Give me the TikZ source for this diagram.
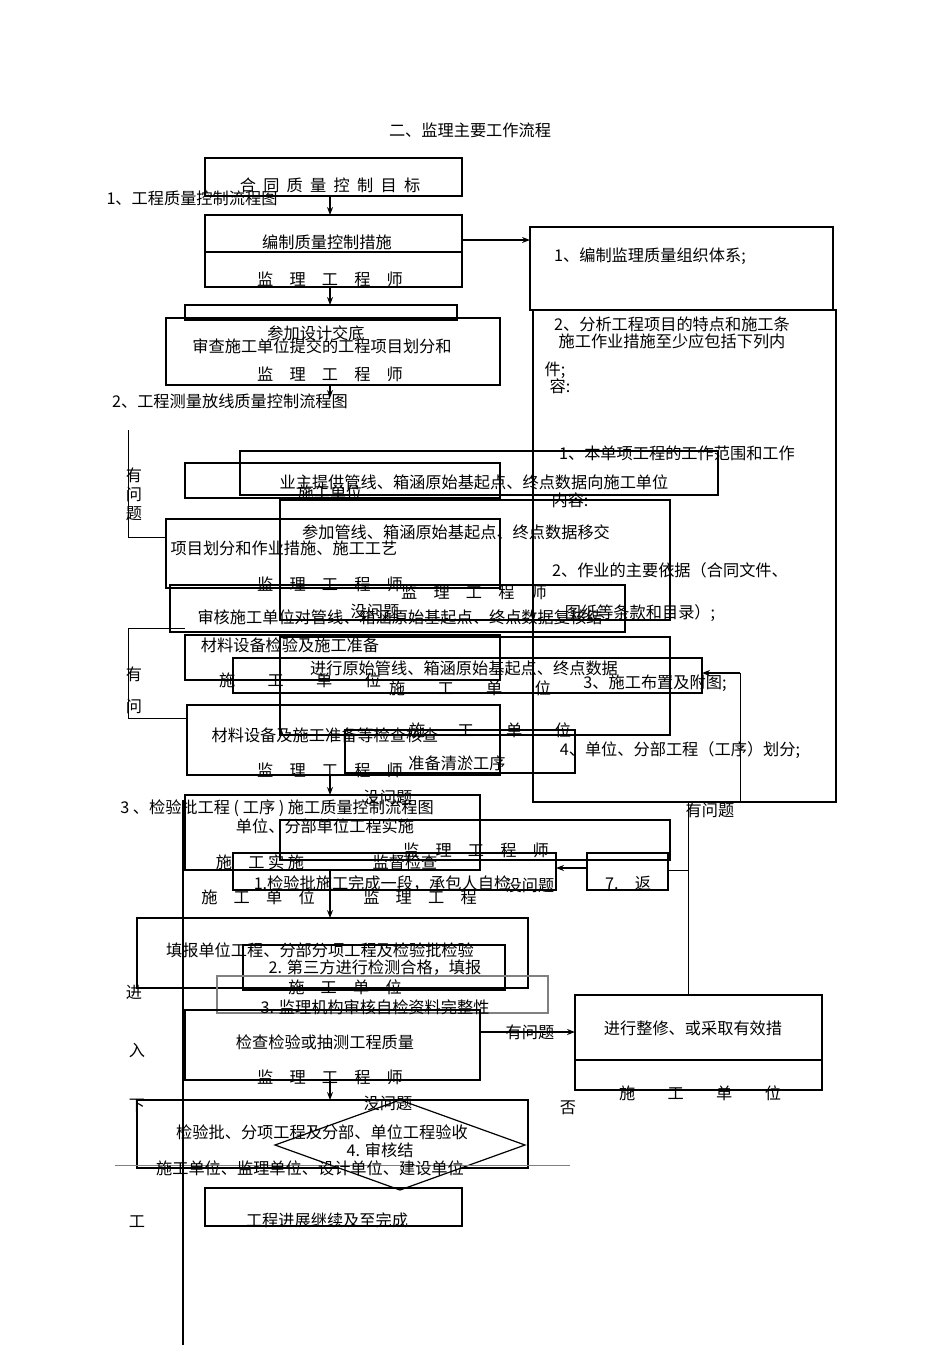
\documentclass[tikz,border=0pt]{standalone}
\usepackage{fontspec}
\setmainfont{Noto Sans CJK SC}
\usetikzlibrary{arrows.meta}
\begin{document}
\begin{tikzpicture}[x=0.5pt,y=-0.5pt,
  bx/.style={draw,line width=1.1pt},
  tx/.style={inner sep=0pt,font=\fontsize{8.1}{8.5}\selectfont},
  ar/.style={-{Stealth[length=4pt]},line width=0.6pt}]
\useasboundingbox (0,0) rectangle (950,1345);
% boxes
\draw[bx] (205,158) rectangle (462,196);
\draw[bx] (205,215) rectangle (462,252); \draw[bx] (205,252) rectangle (462,287);
\draw[bx] (530,227) rectangle (833,310);
\draw[bx] (533,310) rectangle (836,802);
\draw[bx] (185,305) rectangle (457,320);
\draw[bx] (166,318) rectangle (500,385);
\draw[bx] (185,463) rectangle (500,498);
\draw[bx] (240,451) rectangle (718,495);
\draw[bx] (166,519) rectangle (500,588);
\draw[bx] (280,500) rectangle (670,620);
\draw[bx] (170,585) rectangle (625,632);
\draw[bx] (185,635) rectangle (500,680);
\draw[bx] (280,637) rectangle (670,735);
\draw[bx] (233,658) rectangle (702,693);
\draw[bx] (187,705) rectangle (500,775);
\draw[bx] (345,730) rectangle (575,773);
\draw[bx] (185,795) rectangle (480,870);
\draw[bx] (280,820) rectangle (670,860);
\draw[bx] (233,853) rectangle (556,890);
\draw[bx] (587,853) rectangle (668,890);
\draw[bx] (137,918) rectangle (528,988);
\draw[bx] (243,945) rectangle (505,990);
\draw[draw=gray,line width=0.8pt] (217,976) rectangle (548,1013);
\draw[bx] (185,1010) rectangle (480,1080);
\draw[bx] (575,995) rectangle (822,1090); \draw[line width=0.8pt] (575,1060) -- (822,1060);
\draw[bx] (137,1100) rectangle (528,1168);
\draw[line width=0.6pt,fill=white] (275,1145) -- (400,1100) -- (525,1145) -- (400,1190) -- cycle;
\draw[gray] (115,1165) -- (570,1165);
\draw[bx] (205,1188) rectangle (462,1226);
% lines / arrows
\coordinate (a1) at (330,196); \coordinate (a2) at (330,215); \draw[ar] (a1) -- (a2);
\coordinate (b1) at (330,287); \coordinate (b2) at (330,305); \draw[ar] (b1) -- (b2);
\coordinate (c1) at (462,240); \coordinate (c2) at (530,240); \draw[ar] (c1) -- (c2);
\coordinate (d1) at (330,385); \coordinate (d2) at (330,398); \draw[ar] (d1) -- (d2);
\draw (128,430) -- (128,537) -- (166,537);
\draw (128,628) -- (185,628); \draw (128,628) -- (128,718) -- (187,718);
\draw[line width=0.8pt] (183,800) -- (183,1345);
\coordinate (e1) at (587,868); \coordinate (e2) at (556,868); \draw[ar] (e1) -- (e2);
\draw (668,870) -- (688,870); \draw (688,802) -- (688,995);
\coordinate (f1) at (480,1032); \coordinate (f2) at (575,1032); \draw[ar] (f1) -- (f2);
\coordinate (g1) at (702,673); \coordinate (g2) at (740,673); \draw (g2) -- (740,802);\draw[ar] (g2) -- (g1);
\coordinate (h1) at (330,870); \coordinate (h2) at (330,918); \draw[ar] (h1) -- (h2);
\coordinate (i1) at (330,1080); \coordinate (i2) at (330,1100); \draw[ar] (i1) -- (i2);
\coordinate (j1) at (330,775); \coordinate (j2) at (330,795); \draw[ar] (j1) -- (j2);
% texts
\node[tx] at (470,130) {二、监理主要工作流程};
\node[tx] at (330,185) {合\ \ 同\ \ 质\ \ 量\ \ 控\ \ 制\ \ 目\ \ 标};
\node[tx] at (192,198) {1、工程质量控制流程图};
\node[tx] at (327,242) {编制质量控制措施};
\node[tx] at (330,279) {监\quad 理\quad 工\quad 程\quad 师};
\node[tx] at (650,256) {1、编制监理质量组织体系;};
\node[tx] at (316,333) {参加设计交底};
\node[tx] at (322,346) {审查施工单位提交的工程项目划分和};
\node[tx] at (330,374) {监\quad 理\quad 工\quad 程\quad 师};
\node[tx] at (230,401) {2、工程测量放线质量控制流程图};
\node[tx,align=center] at (134,494) {有\\[1pt]问\\[1pt]题};
\node[tx] at (474,482) {业主提供管线、箱涵原始基起点、终点数据向施工单位};
\node[tx] at (330,492) {施工单位};
\node[tx] at (456,532) {参加管线、箱涵原始基起点、终点数据移交};
\node[tx] at (284,548) {项目划分和作业措施、施工工艺};
\node[tx] at (330,584) {监\quad 理\quad 工\quad 程\quad 师};
\node[tx] at (474,592) {监\quad 理\quad 工\quad 程\quad 师};
\node[tx] at (375,611) {没问题};
\node[tx] at (400,617) {审核施工单位对管线、箱涵原始基起点、终点数据复核结};
\node[tx] at (290,645) {材料设备检验及施工准备};
\node[tx] at (464,668) {进行原始管线、箱涵原始基起点、终点数据};
\node[tx] at (300,680) {施\qquad 工\qquad 单\qquad 位};
\node[tx] at (470,688) {施\qquad 工\qquad 单\qquad 位};
\node[tx] at (655,683) {3、施工布置及附图;};
\node[tx] at (134,674) {有};
\node[tx] at (134,706) {问};
\node[tx] at (325,735) {材料设备及施工准备等检查核查};
\node[tx] at (490,730) {施\qquad 工\qquad 单\qquad 位};
\node[tx] at (330,770) {监\quad 理\quad 工\quad 程\quad 师};
\node[tx] at (457,763) {准备清淤工序};
\node[tx] at (680,750) {4、单位、分部工程（工序）划分;};
\node[tx] at (388,797) {没问题};
\node[tx] at (277,808) {3 、检验批工程 ( 工序 ) 施工质量控制流程图};
\node[tx] at (710,810) {有问题};
\node[tx] at (325,826) {单位、分部单位工程实施};
\node[tx] at (476,850) {监\quad 理\quad 工\quad 程\quad 师};
\node[tx] at (260,862) {施\quad 工\ 实\ 施};
\node[tx] at (405,862) {监督检查};
\node[tx] at (382,883) {1.检验批施工完成一段，承包人自检};
\node[tx] at (530,885) {没问题};
\node[tx] at (628,883) {7.\quad 返};
\node[tx] at (258,897) {施\quad 工\quad 单\quad 位};
\node[tx] at (420,897) {监\quad 理\quad 工\quad 程};
\node[tx] at (320,950) {填报单位工程、分部分项工程及检验批检验};
\node[tx] at (375,967) {2. 第三方进行检测合格，填报};
\node[tx] at (345,987) {施\quad 工\quad 单\quad 位};
\node[tx] at (375,1007) {3. 监理机构审核自检资料完整性};
\node[tx] at (134,992) {进};
\node[tx] at (137,1050) {入};
\node[tx] at (137,1106) {下};
\node[tx] at (137,1222) {工};
\node[tx] at (325,1042) {检查检验或抽测工程质量};
\node[tx] at (330,1077) {监\quad 理\quad 工\quad 程\quad 师};
\node[tx] at (530,1032) {有问题};
\node[tx] at (693,1028) {进行整修、或采取有效措};
\node[tx] at (700,1093) {施\qquad 工\qquad 单\qquad 位};
\node[tx] at (568,1108) {否};
\node[tx] at (388,1103) {没问题};
\node[tx] at (322,1132) {检验批、分项工程及分部、单位工程验收};
\node[tx] at (380,1150) {4. 审核结};
\node[tx] at (310,1168) {施工单位、监理单位、设计单位、建设单位};
\node[tx] at (327,1220) {工程进展继续及至完成};
\node[tx] at (672,324) {2、分析工程项目的特点和施工条};
\node[tx] at (672,341) {施工作业措施至少应包括下列内};
\node[tx] at (555,370) {件;};
\node[tx] at (560,386) {容:};
\node[tx] at (677,453) {1、本单项工程的工作范围和工作};
\node[tx] at (570,500) {内容:};
\node[tx] at (670,570) {2、作业的主要依据（合同文件、};
\node[tx] at (640,613) {图纸等条款和目录）;};
\end{tikzpicture}
\end{document}
